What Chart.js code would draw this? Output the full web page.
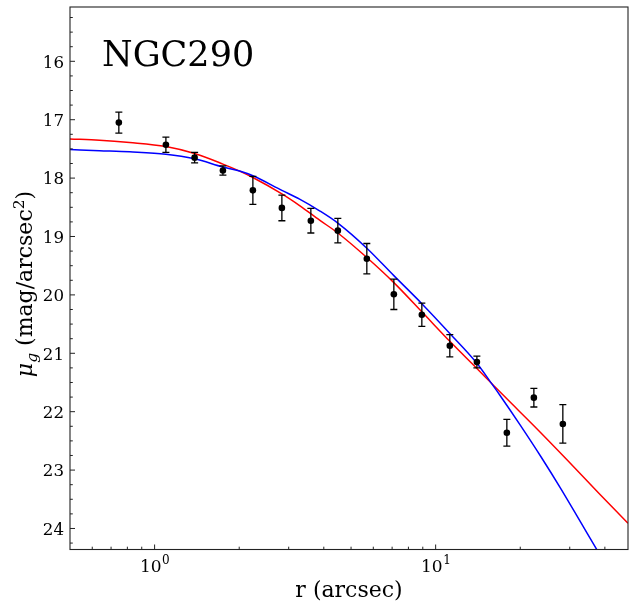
<!DOCTYPE html>
<html>
<head>
<meta charset="utf-8">
<script src="https://cdn.jsdelivr.net/npm/chart.js@4/dist/chart.umd.min.js"></script>
<style>
html,body{margin:0;padding:0;background:#fff;}
#wrap{width:634px;height:608px;}
</style>
</head>
<body>
<div id="wrap"><canvas id="c" width="634" height="608"></canvas></div>
<script>
// ---- data ----
const galaxyName = 'NGC290';
const obsR   = [0.746,1.097,1.388,1.750,2.237,2.837,3.597,4.487,5.69,7.10,8.93,11.23,14.02,17.92,22.36,28.35];
const obsMu  = [17.05,17.43,17.65,17.87,18.21,18.51,18.73,18.90,19.38,19.99,20.34,20.87,21.15,22.36,21.76,22.21];
const obsErr = [0.18,0.13,0.09,0.08,0.24,0.22,0.21,0.21,0.26,0.26,0.20,0.19,0.10,0.23,0.16,0.33];

const redR  = [0.5,0.637,0.815,1.097,1.388,1.750,2.007,2.237,2.837,3.28,3.864,4.487,5.69,7.10,8.93,11.23,14.02,15.77,17.92,22.36,29.15,38.3,48.35];
const redMu = [17.33,17.35,17.39,17.46,17.58,17.76,17.88,17.99,18.27,18.47,18.72,18.94,19.36,19.79,20.29,20.795,21.26,21.51,21.78,22.24,22.81,23.41,23.91];

const blueR  = [0.5,0.637,0.815,1.097,1.388,1.750,2.007,2.237,2.837,3.28,3.864,4.487,5.69,7.10,8.93,11.23,14.02,15.77,16.88,20.0,23.76,27.98,32.96,38.07,41.56];
const blueMu = [17.51,17.53,17.55,17.59,17.67,17.81,17.88,17.96,18.21,18.36,18.56,18.77,19.20,19.67,20.15,20.66,21.17,21.51,21.71,22.23,22.78,23.33,23.91,24.42,24.74];

const xMajorTicks = [1,10];
const xMinorTicks = [0.6,0.7,0.8,0.9,2,3,4,5,6,7,8,9,20,30,40];
const yMajorTicks = [16,17,18,19,20,21,22,23,24];
const yMinorTicks = [15.25,15.5,15.75,16.25,16.5,16.75,17.25,17.5,17.75,18.25,18.5,18.75,19.25,19.5,19.75,20.25,20.5,20.75,21.25,21.5,21.75,22.25,22.5,22.75,23.25,23.5,23.75,24.25];

const xTitle = 'r (arcsec)';
const FONT = "'DejaVu Serif', serif";

function pts(xs, ys){ return xs.map((x,i)=>({x:x, y:ys[i]})); }

const overlay = {
  id:'overlay',
  beforeDatasetDraw(chart, args){
    if (args.index !== 2) return;
    const ctx = chart.ctx, xs = chart.scales.x, ys = chart.scales.y;
    ctx.save();
    ctx.strokeStyle = '#000';
    ctx.lineWidth = 1.3;
    obsR.forEach((r,i)=>{
      const px = xs.getPixelForValue(r);
      const y1 = ys.getPixelForValue(obsMu[i]-obsErr[i]);
      const y2 = ys.getPixelForValue(obsMu[i]+obsErr[i]);
      ctx.beginPath();
      ctx.moveTo(px,y1); ctx.lineTo(px,y2);
      ctx.moveTo(px-3.5,y1); ctx.lineTo(px+3.5,y1);
      ctx.moveTo(px-3.5,y2); ctx.lineTo(px+3.5,y2);
      ctx.stroke();
    });
    ctx.restore();
  },
  afterDraw(chart){
    const ctx = chart.ctx, a = chart.chartArea, xs = chart.scales.x, ys = chart.scales.y;
    ctx.save();
    // frame
    ctx.strokeStyle = '#222';
    ctx.lineWidth = 1.1;
    ctx.strokeRect(a.left, a.top, a.right-a.left, a.bottom-a.top);
    // ticks (inward, left & bottom)
    ctx.lineWidth = 1;
    ctx.beginPath();
    xMajorTicks.forEach(v=>{ const p = xs.getPixelForValue(v); ctx.moveTo(p,a.bottom); ctx.lineTo(p,a.bottom-5); });
    xMinorTicks.forEach(v=>{ const p = xs.getPixelForValue(v); ctx.moveTo(p,a.bottom); ctx.lineTo(p,a.bottom-2.8); });
    yMajorTicks.forEach(v=>{ const p = ys.getPixelForValue(v); ctx.moveTo(a.left,p); ctx.lineTo(a.left+5,p); });
    yMinorTicks.forEach(v=>{ const p = ys.getPixelForValue(v); ctx.moveTo(a.left,p); ctx.lineTo(a.left+2.8,p); });
    ctx.stroke();
    // x tick labels 10^n
    ctx.fillStyle = '#000';
    ctx.textBaseline = 'alphabetic';
    ctx.textAlign = 'left';
    xMajorTicks.forEach(v=>{
      const p = xs.getPixelForValue(v);
      const e = String(Math.round(Math.log10(v)));
      ctx.font = '17px ' + FONT;
      const w1 = ctx.measureText('10').width;
      ctx.font = '12px ' + FONT;
      const w2 = ctx.measureText(e).width;
      const x0 = p - (w1+w2)/2;
      ctx.font = '17px ' + FONT;
      ctx.fillText('10', x0, 571.5);
      ctx.font = '12px ' + FONT;
      ctx.fillText(e, x0 + w1 + 0.5, 563.5);
    });
    // x title
    ctx.font = '22px ' + FONT;
    ctx.textAlign = 'center';
    ctx.fillText(xTitle, (a.left+a.right)/2, 596.5);
    // y title: mu_g (mag/arcsec^2)
    const segs = [
      {t:'\u03bc', f:'italic 22px '+FONT, dy:0},
      {t:'g', f:'italic 15.5px '+FONT, dy:4.5},
      {t:' (mag/arcsec', f:'22px '+FONT, dy:0},
      {t:'2', f:'15.5px '+FONT, dy:-8},
      {t:')', f:'22px '+FONT, dy:0}
    ];
    let tw = 0;
    segs.forEach(s=>{ ctx.font = s.f; s.w = ctx.measureText(s.t).width; tw += s.w; });
    ctx.translate(32, 284);
    ctx.rotate(-Math.PI/2);
    ctx.textAlign = 'left';
    let cx = -tw/2;
    segs.forEach(s=>{ ctx.font = s.f; ctx.fillText(s.t, cx, s.dy); cx += s.w; });
    ctx.restore();
    // galaxy label
    ctx.save();
    ctx.fillStyle = '#000';
    ctx.font = '35px ' + FONT;
    ctx.textAlign = 'left';
    ctx.textBaseline = 'alphabetic';
    ctx.fillText(galaxyName, 102, 66);
    ctx.restore();
  }
};

new Chart(document.getElementById('c'), {
  type: 'scatter',
  data: {
    datasets: [
      { label:'model red', data: pts(redR, redMu), showLine:true, borderColor:'#ff0000', borderWidth:1.5,
        pointRadius:0, cubicInterpolationMode:'monotone', clip:0, order:3 },
      { label:'model blue', data: pts(blueR, blueMu), showLine:true, borderColor:'#0000ff', borderWidth:1.5,
        pointRadius:0, cubicInterpolationMode:'monotone', clip:0, order:2 },
      { label:'data', data: pts(obsR, obsMu), showLine:false, pointRadius:3.3, pointBackgroundColor:'#000',
        pointBorderColor:'#000', pointBorderWidth:0, order:1 }
    ]
  },
  options: {
    responsive:false,
    animation:false,
    devicePixelRatio: 1,
    layout:{ padding:{ left:0, right:6, top:7, bottom:0 } },
    plugins:{ legend:{display:false}, tooltip:{enabled:false} },
    scales:{
      x:{
        type:'logarithmic', min:0.5, max:48.35,
        grid:{display:false, drawTicks:false}, border:{display:false},
        ticks:{display:false},
        afterBuildTicks(s){ s.ticks = xMajorTicks.map(v=>({value:v, major:true})); },
        afterFit(s){ s.height = 58.5; s.paddingLeft = 0; s.paddingRight = 0; }
      },
      y:{
        type:'linear', reverse:true, min:15.07, max:24.36,
        grid:{display:false, drawTicks:false}, border:{display:false},
        ticks:{ color:'#000', font:{family:FONT, size:16.67}, padding:6, labelOffset:2,
          callback:(v)=>String(v) },
        afterBuildTicks(s){ s.ticks = yMajorTicks.map(v=>({value:v})); },
        afterFit(s){ s.width = 70; s.paddingTop = 0; s.paddingBottom = 0; }
      }
    }
  },
  plugins:[overlay]
});
</script>
</body>
</html>
